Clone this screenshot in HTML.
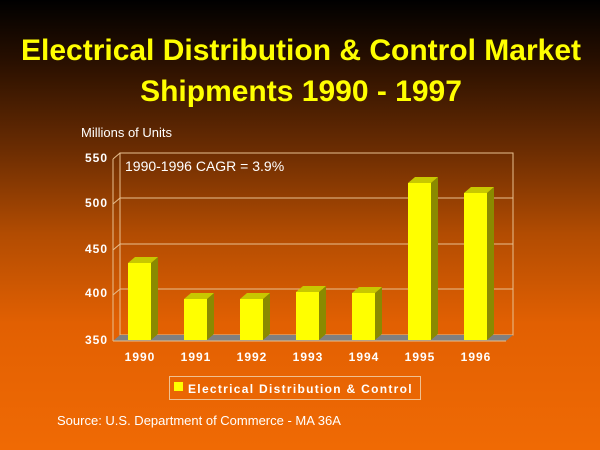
<!DOCTYPE html>
<html><head><style>
html,body{margin:0;padding:0;}
body{width:600px;height:450px;overflow:hidden;background:linear-gradient(to bottom,#000000 0%,#2a1000 14%,#6a2c02 33%,#b24c02 52%,#e26002 72%,#f06a04 100%);}
svg{display:block;font-family:"Liberation Sans",Arial,sans-serif;}
</style></head><body>
<svg width="600" height="450" viewBox="0 0 600 450">
<text x="301" y="60" text-anchor="middle" fill="#ffff00" font-weight="bold" font-size="30" textLength="560" lengthAdjust="spacingAndGlyphs">Electrical Distribution &amp; Control Market</text>
<text x="301" y="101" text-anchor="middle" fill="#ffff00" font-weight="bold" font-size="30">Shipments 1990 - 1997</text>
<text x="81" y="137" fill="#fff" font-size="13">Millions of Units</text>
<rect x="120" y="153" width="393" height="182" fill="none" stroke="#e8c090" stroke-width="1"/>
<g stroke="#e8c090" stroke-width="1">
<line x1="120" y1="198" x2="513" y2="198"/>
<line x1="120" y1="244" x2="513" y2="244"/>
<line x1="120" y1="289" x2="513" y2="289"/>
<line x1="113" y1="159" x2="120" y2="153"/>
<line x1="113" y1="204" x2="120" y2="198"/>
<line x1="113" y1="250" x2="120" y2="244"/>
<line x1="113" y1="295" x2="120" y2="289"/>
<line x1="113" y1="159" x2="113" y2="341"/>
</g>
<polygon points="113,341 120,335 513,335 506,341" fill="#808080"/>
<line x1="113" y1="341" x2="506" y2="341" stroke="#e8c090"/>
<g font-size="12" font-weight="bold" fill="#fff" text-anchor="end" letter-spacing="1">
<text x="108" y="162">550</text>
<text x="108" y="207">500</text>
<text x="108" y="253">450</text>
<text x="108" y="297">400</text>
<text x="108" y="344">350</text>
</g>
<text x="125" y="171" fill="#fff" font-size="14">1990-1996 CAGR = 3.9%</text>
<g>
<polygon points="151,263 158,257 158,334 151,340" fill="#8a8a00"/>
<polygon points="128,263 135,257 158,257 151,263" fill="#c8c800"/>
<rect x="128" y="263" width="23" height="77" fill="#ffff00"/>
<polygon points="207,299 214,293 214,334 207,340" fill="#8a8a00"/>
<polygon points="184,299 191,293 214,293 207,299" fill="#c8c800"/>
<rect x="184" y="299" width="23" height="41" fill="#ffff00"/>
<polygon points="263,299 270,293 270,334 263,340" fill="#8a8a00"/>
<polygon points="240,299 247,293 270,293 263,299" fill="#c8c800"/>
<rect x="240" y="299" width="23" height="41" fill="#ffff00"/>
<polygon points="319,292 326,286 326,334 319,340" fill="#8a8a00"/>
<polygon points="296,292 303,286 326,286 319,292" fill="#c8c800"/>
<rect x="296" y="292" width="23" height="48" fill="#ffff00"/>
<polygon points="375,293 382,287 382,334 375,340" fill="#8a8a00"/>
<polygon points="352,293 359,287 382,287 375,293" fill="#c8c800"/>
<rect x="352" y="293" width="23" height="47" fill="#ffff00"/>
<polygon points="431,183 438,177 438,334 431,340" fill="#8a8a00"/>
<polygon points="408,183 415,177 438,177 431,183" fill="#c8c800"/>
<rect x="408" y="183" width="23" height="157" fill="#ffff00"/>
<polygon points="487,193 494,187 494,334 487,340" fill="#8a8a00"/>
<polygon points="464,193 471,187 494,187 487,193" fill="#c8c800"/>
<rect x="464" y="193" width="23" height="147" fill="#ffff00"/>
</g>
<g font-size="12" font-weight="bold" fill="#fff" text-anchor="middle" letter-spacing="1">
<text x="140" y="361">1990</text>
<text x="196" y="361">1991</text>
<text x="252" y="361">1992</text>
<text x="308" y="361">1993</text>
<text x="364" y="361">1994</text>
<text x="420" y="361">1995</text>
<text x="476" y="361">1996</text>
</g>
<rect x="169.5" y="376.5" width="251" height="23" fill="none" stroke="#f0c090"/>
<rect x="174" y="382" width="9" height="9" fill="#ffff00"/>
<text x="188" y="393" fill="#fff" font-size="12" font-weight="bold" letter-spacing="1.3">Electrical Distribution &amp; Control</text>
<text x="57" y="425" fill="#fff" font-size="13">Source: U.S. Department of Commerce - MA 36A</text>
</svg>
</body></html>
